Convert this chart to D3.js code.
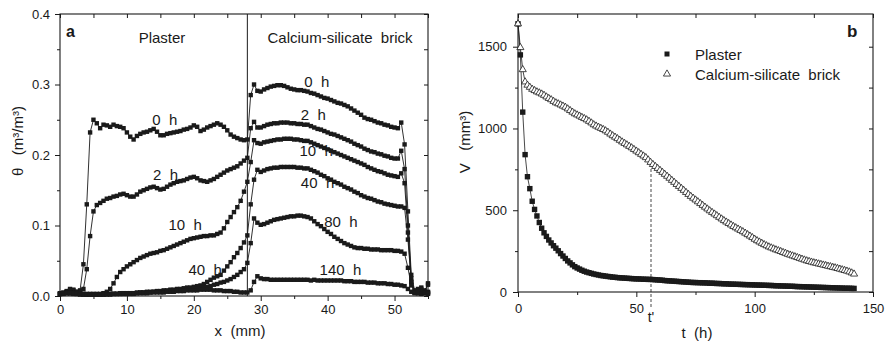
<!DOCTYPE html>
<html>
<head>
<meta charset="utf-8">
<script src="https://cdn.jsdelivr.net/npm/d3@7"></script>
<style>
  body { margin: 0; background: #fff; }
  text { font-family: "Liberation Sans", Arial, sans-serif; fill: #1a1a1a; }
</style>
</head>
<body>
<svg id="chart" width="885" height="344"></svg>
<script>
// ---- panel a: moisture profiles, theta (m3/m3) against x (mm), sampled every 0.5 mm
const xPos = d3.range(0, 55.001, 0.5);

const theta0h = [
  0.003,0.005,0.007,0.010,0.009,0.006,0.008,0.045,0.130,0.232,
  0.250,0.245,0.238,0.243,0.242,0.240,0.243,0.241,0.240,0.238,
  0.232,0.226,0.222,0.227,0.230,0.232,0.233,0.235,0.237,0.233,
  0.228,0.228,0.230,0.231,0.232,0.233,0.234,0.236,0.237,0.239,
  0.242,0.240,0.234,0.236,0.239,0.241,0.243,0.245,0.243,0.240,
  0.235,0.229,0.226,0.224,0.222,0.221,0.222,0.285,0.300,0.291,
  0.290,0.293,0.295,0.297,0.298,0.299,0.299,0.298,0.296,0.294,
  0.293,0.292,0.292,0.291,0.290,0.288,0.287,0.285,0.283,0.281,
  0.280,0.278,0.276,0.274,0.273,0.271,0.269,0.266,0.263,0.260,
  0.257,0.253,0.251,0.250,0.248,0.246,0.245,0.243,0.242,0.240,
  0.239,0.238,0.246,0.215,0.120,0.030,0.008,0.005,0.012,0.005,
  0.018];
const theta2h = [
  0.003,0.004,0.006,0.008,0.008,0.006,0.005,0.010,0.038,0.085,
  0.120,0.129,0.132,0.135,0.138,0.139,0.141,0.142,0.144,0.145,
  0.143,0.141,0.141,0.144,0.148,0.150,0.152,0.154,0.155,0.153,
  0.151,0.152,0.155,0.158,0.160,0.162,0.163,0.164,0.166,0.168,
  0.169,0.167,0.164,0.163,0.162,0.164,0.166,0.169,0.172,0.175,
  0.178,0.180,0.182,0.184,0.188,0.192,0.196,0.238,0.247,0.239,
  0.239,0.241,0.243,0.244,0.245,0.245,0.246,0.246,0.246,0.245,
  0.245,0.244,0.244,0.243,0.243,0.241,0.239,0.237,0.236,0.234,
  0.232,0.230,0.229,0.227,0.225,0.223,0.221,0.219,0.216,0.214,
  0.212,0.209,0.207,0.205,0.204,0.202,0.201,0.199,0.198,0.196,
  0.195,0.195,0.206,0.180,0.100,0.025,0.006,0.010,0.005,0.008,
  0.016];
const theta10h = [
  0.003,0.004,0.005,0.004,0.005,0.004,0.003,0.003,0.003,0.003,
  0.003,0.003,0.003,0.004,0.006,0.010,0.018,0.027,0.034,0.038,
  0.042,0.045,0.048,0.051,0.054,0.056,0.058,0.060,0.061,0.062,
  0.064,0.065,0.067,0.069,0.071,0.073,0.075,0.077,0.079,0.081,
  0.082,0.083,0.084,0.085,0.085,0.086,0.086,0.088,0.090,0.096,
  0.105,0.112,0.119,0.126,0.135,0.148,0.162,0.190,0.221,0.217,
  0.216,0.218,0.219,0.220,0.221,0.222,0.222,0.223,0.223,0.223,
  0.222,0.222,0.221,0.220,0.220,0.218,0.216,0.214,0.212,0.210,
  0.208,0.206,0.204,0.202,0.200,0.198,0.196,0.194,0.192,0.190,
  0.188,0.186,0.183,0.181,0.179,0.177,0.176,0.174,0.172,0.171,
  0.170,0.169,0.174,0.160,0.090,0.020,0.005,0.004,0.010,0.004,
  0.006];
const theta40h = [
  0.004,0.004,0.005,0.004,0.004,0.003,0.003,0.003,0.002,0.002,
  0.002,0.002,0.002,0.002,0.003,0.003,0.003,0.003,0.004,0.004,
  0.004,0.004,0.004,0.005,0.005,0.005,0.006,0.006,0.006,0.007,
  0.007,0.008,0.008,0.009,0.009,0.010,0.010,0.011,0.012,0.012,
  0.013,0.014,0.015,0.017,0.020,0.023,0.026,0.028,0.030,0.036,
  0.042,0.048,0.055,0.061,0.068,0.076,0.086,0.130,0.165,0.179,
  0.176,0.178,0.180,0.181,0.182,0.182,0.183,0.183,0.183,0.183,
  0.183,0.182,0.182,0.181,0.181,0.179,0.177,0.175,0.172,0.170,
  0.167,0.165,0.162,0.160,0.158,0.155,0.153,0.151,0.148,0.146,
  0.143,0.141,0.139,0.138,0.136,0.134,0.133,0.131,0.130,0.129,
  0.128,0.127,0.127,0.125,0.080,0.020,0.005,0.008,0.004,0.006,
  0.005];
const theta80h = [
  0.003,0.004,0.004,0.005,0.004,0.003,0.003,0.002,0.002,0.002,
  0.002,0.002,0.002,0.003,0.003,0.003,0.003,0.003,0.003,0.004,
  0.004,0.004,0.004,0.004,0.005,0.005,0.005,0.005,0.006,0.006,
  0.006,0.006,0.007,0.007,0.007,0.008,0.008,0.008,0.009,0.009,
  0.010,0.010,0.011,0.012,0.013,0.014,0.016,0.017,0.019,0.020,
  0.022,0.024,0.027,0.030,0.034,0.038,0.047,0.075,0.110,0.104,
  0.101,0.102,0.104,0.106,0.108,0.109,0.110,0.111,0.112,0.113,
  0.113,0.114,0.114,0.113,0.112,0.110,0.106,0.102,0.099,0.095,
  0.091,0.088,0.084,0.081,0.078,0.075,0.073,0.071,0.069,0.068,
  0.068,0.067,0.067,0.066,0.066,0.066,0.065,0.065,0.065,0.065,
  0.064,0.064,0.063,0.060,0.040,0.015,0.006,0.004,0.007,0.004,
  0.004];
const theta140h = [
  0.003,0.003,0.004,0.004,0.003,0.003,0.002,0.002,0.002,0.002,
  0.002,0.002,0.002,0.002,0.002,0.002,0.003,0.003,0.003,0.003,
  0.003,0.003,0.003,0.004,0.004,0.004,0.004,0.005,0.005,0.005,
  0.005,0.005,0.006,0.006,0.006,0.007,0.007,0.007,0.008,0.008,
  0.008,0.008,0.009,0.009,0.009,0.009,0.008,0.008,0.008,0.007,
  0.007,0.007,0.006,0.006,0.005,0.005,0.005,0.008,0.020,0.028,
  0.025,0.024,0.024,0.023,0.023,0.023,0.023,0.023,0.023,0.023,
  0.023,0.023,0.023,0.023,0.023,0.022,0.023,0.022,0.022,0.022,
  0.022,0.022,0.022,0.022,0.022,0.021,0.021,0.021,0.020,0.020,
  0.020,0.020,0.019,0.019,0.019,0.018,0.018,0.018,0.017,0.017,
  0.016,0.016,0.015,0.014,0.010,0.006,0.004,0.007,0.003,0.005,
  0.003];

const profiles = [theta0h, theta2h, theta10h, theta40h, theta80h, theta140h];
const interfaceX = 28;

// curve labels: text, x (mm), theta at baseline
const profileLabels = [
  ["0  h", 13.8, 0.243], ["2  h", 13.9, 0.165], ["10  h", 16.2, 0.094], ["40  h", 19.2, 0.030],
  ["0  h", 36.5, 0.297], ["2  h", 36.0, 0.250], ["10  h", 35.8, 0.198],
  ["40  h", 36.0, 0.153], ["80  h", 39.5, 0.098], ["140  h", 38.8, 0.030]
];

// ---- panel b: volume V (mm3) against time t (h), one reading per hour
const tHours = d3.range(0, 143, 1);
const vPlaster = [
  1640,1450,1100,840,705,632,555,505,465,425,
  390,362,340,318,300,283,268,252,235,220,
  205,190,178,166,155,147,140,133,127,122,
  118,114,110,107,104,101,99,97,95,93,
  91,90,88,87,86,85,84,83,82,81,
  80,80,79,78,78,77,77,76,75,74,
  73,72,70,69,68,67,66,65,64,63,
  62,61,60,59,58,58,57,57,56,56,
  55,54,54,53,52,52,51,50,50,49,
  48,48,47,47,46,46,45,45,44,44,
  43,43,42,42,41,41,40,40,39,38,
  38,37,37,36,36,35,35,34,33,33,
  32,32,31,31,30,30,29,29,28,28,
  27,27,26,26,25,25,24,24,23,23,
  23,22,22];
const vBrick = [
  1640,1495,1360,1285,1265,1252,1240,1232,1224,1218,
  1211,1203,1193,1184,1176,1166,1157,1151,1144,1137,
  1130,1120,1110,1100,1090,1083,1076,1068,1061,1053,
  1044,1034,1023,1015,1008,1001,994,986,977,966,
  956,947,938,928,918,909,900,891,882,872,
  862,852,842,832,822,808,793,780,768,756,
  744,732,720,708,696,683,671,658,646,634,
  622,609,597,585,574,563,552,541,530,519,
  508,497,487,477,467,457,447,437,428,419,
  410,401,393,385,377,369,360,351,342,333,
  323,314,306,298,290,283,276,270,264,258,
  253,248,242,237,231,226,221,216,211,206,
  201,196,191,187,183,179,176,172,169,165,
  162,158,155,151,148,144,140,136,132,128,
  123,117,110];
const tPrime = 56.2;
const tPrimeTop = 760;
const legendNames = ["Plaster", "Calcium-silicate  brick"];

// ---- drawing
const svg = d3.select("#chart");
const ink = "#1a1a1a";

const xA = d3.scaleLinear().domain([0, 55]).range([60, 428]);
const yA = d3.scaleLinear().domain([0, 0.4]).range([296, 14]);
const xB = d3.scaleLinear().domain([0, 150]).range([518, 873]);
const yB = d3.scaleLinear().domain([0, 1700]).range([292, 14]);

function drawFrame(x, y, o) {
  const [x0, x1] = x.range();
  const [y0, y1] = y.range();
  const g = svg.append("g");
  const strip = sel => {
    sel.select(".domain").remove();
    sel.selectAll("line").attr("stroke", ink);
    sel.selectAll("text").style("font-size", "13px").attr("fill", ink);
  };
  g.append("g").attr("transform", `translate(0,${y0})`)
    .call(d3.axisBottom(x).tickValues(o.xMajor).tickSize(5).tickPadding(o.xPad).tickFormat(d3.format("d"))).call(strip);
  g.append("g").attr("transform", `translate(0,${y0})`)
    .call(d3.axisBottom(x).tickValues(o.xMinor).tickSize(3).tickFormat("")).call(strip);
  g.append("g").attr("transform", `translate(${x0},0)`)
    .call(d3.axisLeft(y).tickValues(o.yMajor).tickSize(5).tickPadding(o.yPad).tickFormat(o.yFmt)).call(strip);
  g.append("g").attr("transform", `translate(${x0},0)`)
    .call(d3.axisLeft(y).tickValues(o.yMinor).tickSize(3).tickFormat("")).call(strip);
  g.append("g").attr("transform", `translate(0,${y1})`)
    .call(d3.axisTop(x).tickValues(o.xMajor.concat(o.xMinor)).tickSize(-4).tickFormat("")).call(strip);
  g.append("g").attr("transform", `translate(${x1},0)`)
    .call(d3.axisRight(y).tickValues(o.yMajor.concat(o.yMinor)).tickSize(-4).tickFormat("")).call(strip);
  g.append("rect").attr("x", x0).attr("y", y1).attr("width", x1 - x0).attr("height", y0 - y1)
    .attr("fill", "none").attr("stroke", ink).attr("stroke-width", 1.1);
}

// panel a
drawFrame(xA, yA, {
  xMajor: [0, 10, 20, 30, 40, 50], xMinor: [5, 15, 25, 35, 45, 55], xPad: 4,
  yMajor: [0, 0.1, 0.2, 0.3, 0.4], yMinor: [0.05, 0.15, 0.25, 0.35], yPad: 5, yFmt: d3.format(".1f")
});

svg.append("line")
  .attr("x1", xA(interfaceX)).attr("x2", xA(interfaceX))
  .attr("y1", yA(0)).attr("y2", yA(0.4))
  .attr("stroke", ink).attr("stroke-width", 1);

const lineA = d3.line().x((d, i) => xA(xPos[i])).y(d => yA(d));
profiles.forEach(series => {
  svg.append("path").datum(series).attr("d", lineA)
    .attr("fill", "none").attr("stroke", ink).attr("stroke-width", 0.9);
  svg.append("g").selectAll("rect").data(series).join("rect")
    .attr("x", (d, i) => xA(xPos[i]) - 2.2).attr("y", d => yA(d) - 2.2)
    .attr("width", 4.4).attr("height", 4.4).attr("fill", ink);
});

svg.append("g").selectAll("text").data(profileLabels).join("text")
  .attr("x", d => xA(d[1])).attr("y", d => yA(d[2]))
  .style("font-size", "15px").style("white-space", "pre")
  .text(d => d[0]);

svg.append("text").attr("x", 162).attr("y", 43).attr("text-anchor", "middle")
  .style("font-size", "15px").text("Plaster");
svg.append("text").attr("x", 340).attr("y", 43).attr("text-anchor", "middle")
  .style("font-size", "15px").style("white-space", "pre").text("Calcium-silicate  brick");
svg.append("text").attr("x", 66).attr("y", 37)
  .style("font-size", "16px").style("font-weight", "bold").text("a");

svg.append("text").attr("x", 240).attr("y", 336).attr("text-anchor", "middle")
  .style("font-size", "15px").style("white-space", "pre").text("x  (mm)");
svg.append("text").attr("transform", "translate(23,141) rotate(-90)").attr("text-anchor", "middle")
  .style("font-size", "15px").style("white-space", "pre").text("θ   (m³/m³)");

// panel b
drawFrame(xB, yB, {
  xMajor: [0, 50, 100, 150], xMinor: [25, 75, 125], xPad: 7,
  yMajor: [0, 500, 1000, 1500], yMinor: [250, 750, 1250], yPad: 6, yFmt: d3.format("d")
});

svg.append("line")
  .attr("x1", xB(tPrime)).attr("x2", xB(tPrime))
  .attr("y1", yB(0) + 15).attr("y2", yB(tPrimeTop))
  .attr("stroke", ink).attr("stroke-width", 0.8).attr("stroke-dasharray", "3,2");

const lineB = series => d3.line().x((d, i) => xB(tHours[i])).y(d => yB(d))(series);
const triangle = d3.symbol().type(d3.symbolTriangle).size(22);

svg.append("path").attr("d", lineB(vPlaster))
  .attr("fill", "none").attr("stroke", ink).attr("stroke-width", 0.8);
svg.append("g").selectAll("rect").data(vPlaster).join("rect")
  .attr("x", (d, i) => xB(tHours[i]) - 2.7).attr("y", d => yB(d) - 2.7)
  .attr("width", 5.4).attr("height", 5.4).attr("fill", ink);

svg.append("path").attr("d", lineB(vBrick))
  .attr("fill", "none").attr("stroke", ink).attr("stroke-width", 0.8);
svg.append("g").selectAll("path").data(vBrick).join("path")
  .attr("transform", (d, i) => `translate(${xB(tHours[i])},${yB(d)})`)
  .attr("d", triangle).attr("fill", "#fff").attr("stroke", ink).attr("stroke-width", 0.8);

// legend
const legend = svg.append("g").attr("transform", "translate(667,54)");
legend.append("rect").attr("x", -2.5).attr("y", -2.5).attr("width", 5).attr("height", 5).attr("fill", ink);
legend.append("path").attr("transform", "translate(0,20)").attr("d", triangle)
  .attr("fill", "#fff").attr("stroke", ink).attr("stroke-width", 0.8);
legend.selectAll("text").data(legendNames).join("text")
  .attr("x", 28).attr("y", (d, i) => 6 + i * 20)
  .style("font-size", "15px").style("white-space", "pre").text(d => d);

svg.append("text").attr("x", 847).attr("y", 37)
  .style("font-size", "17px").style("font-weight", "bold").text("b");
svg.append("text").attr("x", xB(tPrime)).attr("y", 322).attr("text-anchor", "middle")
  .style("font-size", "14px").text("t'");
svg.append("text").attr("x", 697).attr("y", 338).attr("text-anchor", "middle")
  .style("font-size", "15px").style("white-space", "pre").text("t  (h)");
svg.append("text").attr("transform", "translate(470,142) rotate(-90)").attr("text-anchor", "middle")
  .style("font-size", "15px").style("white-space", "pre").text("V   (mm³)");
</script>
</body>
</html>
